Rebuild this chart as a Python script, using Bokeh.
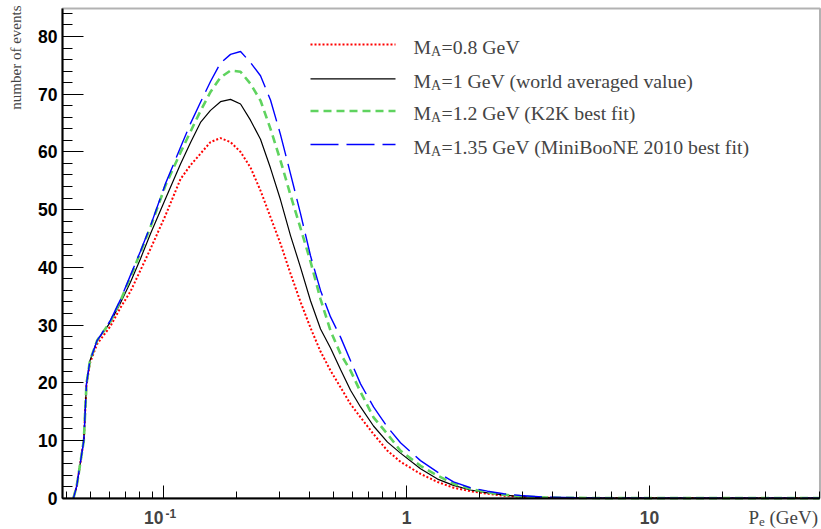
import math
from bokeh.plotting import figure
from bokeh.models import (Label, Arrow, BoxAnnotation, LogTicker, SingleIntervalTicker,
                          CustomJSTickFormatter)
from bokeh.embed import file_html
from bokeh.resources import INLINE

# ---------------- data ----------------
p_e = [0.0426, 0.0439, 0.0452, 0.0470, 0.0482, 0.0498, 0.0533, 0.0605, 0.0665, 0.0731,
       0.0804, 0.0884, 0.1019, 0.1175, 0.1291, 0.1420, 0.1561, 0.1716, 0.1887, 0.2075,
       0.2280, 0.2507, 0.2756, 0.3030, 0.3332, 0.3663, 0.4027, 0.4428, 0.4868, 0.5352,
       0.5884, 0.6469, 0.7315, 0.8353, 0.9447, 1.142, 1.342, 1.561, 1.834, 2.154,
       2.507, 2.944, 3.733, 6.286, 16.22, 50.3]

ev_ma080 = [0, 2.0, 5.4, 10.0, 19.5, 23.4, 26.7, 29.8, 33.0, 35.8,
            39.5, 43.2, 49.0, 55.3, 57.7, 59.7, 61.7, 62.4, 61.7, 60.0,
            57.3, 53.3, 48.7, 44.1, 38.9, 34.0, 29.5, 25.4, 22.1, 19.2,
            16.3, 14.0, 11.1, 8.2, 6.3, 4.2, 2.8, 1.8, 1.2, 0.75,
            0.4, 0.2, 0.05, 0, 0, 0]
ev_ma100 = [0, 2.0, 5.4, 10.0, 19.8, 23.8, 27.3, 30.5, 33.8, 37.4,
            41.5, 45.8, 51.9, 57.9, 61.6, 65.1, 67.2, 68.7, 69.1, 68.3,
            65.5, 62.2, 57.2, 51.7, 45.5, 40.0, 34.2, 29.3, 26.0, 22.3,
            18.7, 15.8, 12.5, 9.7, 7.8, 5.1, 3.3, 2.2, 1.4, 0.9,
            0.55, 0.25, 0.08, 0, 0, 0]
ev_ma120 = [0, 2.0, 5.4, 10.0, 19.8, 23.8, 27.3, 30.6, 34.2, 38.3,
            42.6, 47.0, 54.2, 59.9, 63.5, 67.1, 70.4, 72.9, 74.1, 73.9,
            71.8, 68.9, 64.0, 58.5, 52.5, 46.8, 41.0, 34.5, 29.0, 25.0,
            22.1, 18.4, 14.0, 11.1, 8.2, 5.6, 3.9, 2.5, 1.6, 1.0,
            0.6, 0.3, 0.1, 0, 0, 0]
ev_ma135 = [0, 2.0, 5.4, 10.0, 19.8, 23.8, 27.3, 30.8, 34.4, 38.6,
            42.8, 47.2, 54.5, 60.8, 64.9, 68.6, 72.2, 75.4, 76.9, 77.4,
            75.5, 73.2, 69.0, 63.0, 56.2, 49.3, 42.0, 36.0, 31.4, 27.9,
            23.8, 19.8, 15.8, 12.3, 9.6, 6.5, 4.5, 2.8, 1.8, 1.2,
            0.75, 0.45, 0.15, 0, 0, 0]

legend_rest = ["=0.8 GeV", "=1 GeV (world averaged value)",
               "=1.2 GeV (K2K best fit)", "=1.35 GeV (MiniBooNE 2010 best fit)"]

x_tick_values = [0.1, 1, 10]

# ---------------- layout constants ----------------
FIG_W, FIG_H = 821, 529
X_LO, X_HI = 0.038403, 50.3        # extent of the axes box
Y_LO, Y_HI = 0.0, 84.85
VIEW_X = (10 ** -1.67078, 10 ** 1.70782)   # whole canvas
VIEW_Y = (-5.44, 86.24)
BL = 0.18   # baseline correction (fraction of the font size)
BOTTOM_TEXT = 9   # baseline height of the x tick labels / x title


def txt(x, y, text, size, font="Liberation Serif", bold=False, align="left",
        x_units="screen", x_offset=0):
    return Label(x=x, y=y + BL * size, x_units=x_units, y_units="screen", text=text,
                 x_offset=x_offset, text_font=font,
                 text_font_style="bold" if bold else "normal",
                 text_font_size=f"{size}px", text_baseline="alphabetic", text_align=align)


p = figure(width=FIG_W, height=FIG_H, x_axis_type="log",
           x_range=VIEW_X, y_range=VIEW_Y,
           output_backend="svg", toolbar_location=None, min_border=0)
p.grid.visible = False
p.outline_line_color = None
p.background_fill_color = "white"
p.border_fill_color = "white"

# y axis (drawn inside the canvas at the left edge of the box)
p.yaxis.fixed_location = X_LO
p.yaxis.bounds = (Y_LO, Y_HI)
p.yaxis.ticker = SingleIntervalTicker(interval=10, num_minor_ticks=5)
p.yaxis.axis_line_width = 2
p.yaxis.major_tick_in = 21
p.yaxis.major_tick_out = 0
p.yaxis.minor_tick_in = 10
p.yaxis.minor_tick_out = 0
p.yaxis.major_tick_line_color = "black"
p.yaxis.minor_tick_line_color = "black"
p.yaxis.major_label_text_font = "Liberation Sans"
p.yaxis.major_label_text_font_style = "bold"
p.yaxis.major_label_text_font_size = "17.5px"
p.yaxis.major_label_text_color = "black"
p.yaxis.major_label_standoff = 5

# x axis
p.xaxis.fixed_location = Y_LO
p.xaxis.bounds = (X_LO, X_HI)
p.xaxis.ticker = LogTicker(num_minor_ticks=10)
p.xaxis.axis_line_width = 2
p.xaxis.major_tick_in = 13
p.xaxis.major_tick_out = 0
p.xaxis.minor_tick_in = 7
p.xaxis.minor_tick_out = 0
p.xaxis.major_tick_line_color = "black"
p.xaxis.minor_tick_line_color = "black"
p.xaxis.formatter = CustomJSTickFormatter(code="return ''")

# axes box
p.add_layout(BoxAnnotation(left=X_LO, right=X_HI, bottom=Y_LO, top=Y_HI,
                           fill_color=None, line_color="black", line_width=2))

# ---------------- curves ----------------
styles = [
    (ev_ma080, "#ff0000", 2.0, "2 2"),
    (ev_ma100, "#000000", 1.2, "solid"),
    (ev_ma120, "#5fd35f", 2.6, "8 5"),
    (ev_ma135, "#0000ff", 1.4, "28 8"),
]
for ys, col, w, dash in styles:
    p.line(p_e, ys, line_color=col, line_width=w, line_dash=dash)

# ---------------- legend (screen units: x from left, y from bottom of canvas) ----------------
row_y = [485, 450.7, 418.5, 385]
for (ys, col, w, dash), ry, rest in zip(styles, row_y, legend_rest):
    p.add_layout(Arrow(end=None, x_start=310, y_start=ry, x_end=395, y_end=ry,
                       start_units="screen", end_units="screen",
                       line_color=col, line_width=w, line_dash=dash))
    base = ry - 6
    p.add_layout(txt(413, base, "M", 19.8))
    p.add_layout(txt(430.6, base - 3.5, "A", 14))
    p.add_layout(txt(441, base, rest, 19.8))

# ---------------- x tick labels ----------------
for xv in x_tick_values:
    if xv < 1:
        p.add_layout(txt(xv, BOTTOM_TEXT, "10", 17.5, font="Liberation Sans", bold=True,
                         align="right", x_units="data"))
        p.add_layout(txt(xv, BOTTOM_TEXT + 4.5, "-1", 12, font="Liberation Sans", bold=True,
                         align="left", x_units="data", x_offset=2))
    else:
        p.add_layout(txt(xv, BOTTOM_TEXT, f"{xv:g}", 17.5, font="Liberation Sans", bold=True,
                         align="center", x_units="data"))

# ---------------- axis titles ----------------
p.add_layout(txt(748, BOTTOM_TEXT, "P", 19))
p.add_layout(txt(758.6, BOTTOM_TEXT - 3.5, "e", 13))
p.add_layout(txt(769, BOTTOM_TEXT, "(GeV)", 19))
p.add_layout(Label(x=15, y=524, x_units="screen", y_units="screen", text="number of events",
                   angle=math.pi / 2,
                   text_font="Liberation Serif", text_font_size="15px",
                   text_baseline="middle", text_align="right"))

open("out.html", "w").write(file_html(p, INLINE))
